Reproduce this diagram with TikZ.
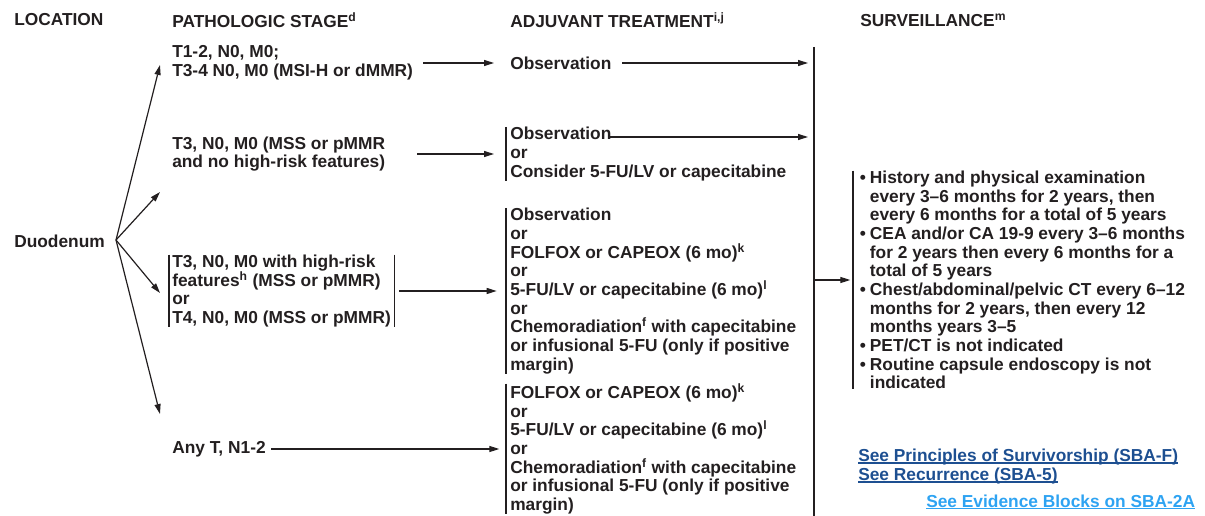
\documentclass[tikz,border=0pt]{standalone}
\usepackage{fontspec}
\setmainfont{Liberation Sans}
\usetikzlibrary{arrows.meta}
\definecolor{linkdark}{HTML}{1D4F91}
\definecolor{linklight}{HTML}{2EA3F2}
\definecolor{ink}{HTML}{231F20}
\newcommand{\bul}{\makebox[7.5pt][l]{\textbullet}}
\newcommand{\ind}{\hspace*{7.5pt}}
\newcommand{\ulink}[1]{\setbox0\hbox{#1}\rlap{\rule[-1.6pt]{\wd0}{0.9pt}}\box0}
\begin{document}
\begin{tikzpicture}[x=0.75pt,y=-0.75pt,
  txt/.style={font=\bfseries\fontsize{13pt}{14pt}\selectfont, text=ink, inner sep=0pt, align=left, anchor=west},
  blk/.style={txt, inner xsep=3pt, inner ysep=0pt},
  arr/.style={-{Triangle[length=7.5pt,width=4.5pt]}, line width=0.9pt, draw=ink},
  brk/.style={line width=0.9pt, draw=ink},
  lnk/.style={font=\bfseries\fontsize{13pt}{14pt}\selectfont, inner sep=0pt, anchor=west}]
\useasboundingbox (0,0) rectangle (1205,516);
% headers
\node[txt] (hloc) at (14,20) {LOCATION};
\node[txt] (hstage) at (172,20) {PATHOLOGIC STAGE\textsuperscript{d}};
\node[txt] (htreat) at (510,20) {ADJUVANT TREATMENT\textsuperscript{i,j}};
\node[txt] (hsurv) at (860,20) {SURVEILLANCE\textsuperscript{m}};
% location
\node[txt] (duo) at (14,241) {Duodenum};
\coordinate (fan) at (116,240);
\coordinate (f1) at (160,65);
\coordinate (f2) at (160,192);
\coordinate (f3) at (160,293);
\coordinate (f4) at (160,414);
\foreach \f in {f1,f2,f3,f4} \draw[arr] (fan) -- (\f);
% stages
\node[txt] (s1) at (172,63) {T1-2, N0, M0;\\T3-4 N0, M0 (MSI-H or dMMR)};
\node[txt] (s2) at (172,154) {T3, N0, M0 (MSS or pMMR\\and no high-risk features)};
\node[blk, inner xsep=2.25pt] (s3) at (169,291) {T3, N0, M0 with high-risk\\features\textsuperscript{h} (MSS or pMMR)\\or\\T4, N0, M0 (MSS or pMMR)};
\draw[brk] (s3.north west) -- (s3.south west);
\draw[brk] (s3.north east) -- (s3.south east);
\node[txt] (s4) at (172,449) {Any T, N1-2};
% treatments
\node[blk] (t1) at (506,63) {Observation};
\node[blk] (t2) at (506,154) {Observation\\or\\Consider 5-FU/LV or capecitabine};
\draw[brk] (t2.north west) -- (t2.south west);
\node[blk] (t3) at (506,291) {Observation\\or\\FOLFOX or CAPEOX (6 mo)\textsuperscript{k}\\or\\5-FU/LV or capecitabine (6 mo)\textsuperscript{l}\\or\\Chemoradiation\textsuperscript{f} with capecitabine\\or infusional 5-FU (only if positive\\margin)};
\draw[brk] (t3.north west) -- (t3.south west);
\node[blk] (t4) at (506,449) {FOLFOX or CAPEOX (6 mo)\textsuperscript{k}\\or\\5-FU/LV or capecitabine (6 mo)\textsuperscript{l}\\or\\Chemoradiation\textsuperscript{f} with capecitabine\\or infusional 5-FU (only if positive\\margin)};
\draw[brk] (t4.north west) -- (t4.south west);
% stage -> treatment arrows
\draw[arr, shorten <=7.5pt, shorten >=9pt] (s1.east) -- (t1.west);
\draw[arr, shorten <=24pt, shorten >=9pt] (s2.east) -- (t2.west);
\draw[arr, shorten <=4pt, shorten >=7pt] (s3.east) -- (t3.west);
\draw[arr, shorten <=4pt, shorten >=5pt] (s4.east) -- (t4.west);
% collector line
\coordinate (vtop) at (814,47);
\coordinate (vbot) at (814,516);
\draw[brk] (vtop) -- (vbot);
\draw[arr, shorten <=5pt, shorten >=4.5pt] (t1.east) -- (t1.east -| vtop);
\coordinate (o2) at (610,137);
\draw[arr, shorten >=4.5pt] (o2) -- (o2 -| vtop);
% surveillance
\node[blk, inner xsep=5pt] (surv) at (853,280) {\bul History and physical examination\\\ind every 3–6 months for 2 years, then\\\ind every 6 months for a total of 5 years\\\bul CEA and/or CA 19-9 every 3–6 months\\\ind for 2 years then every 6 months for a\\\ind total of 5 years\\\bul Chest/abdominal/pelvic CT every 6–12\\\ind months for 2 years, then every 12\\\ind months years 3–5\\\bul PET/CT is not indicated\\\bul Routine capsule endoscopy is not\\\ind indicated};
\draw[brk] (surv.north west) -- (surv.south west);
\draw[arr, shorten >=2pt] (surv.west -| vtop) -- (surv.west);
% links
\node[lnk, text=linkdark] (l1) at (858,457) {\ulink{See Principles of Survivorship (SBA-F)}};
\node[lnk, text=linkdark] (l2) at (858,476) {\ulink{See Recurrence (SBA-5)}};
\node[lnk, text=linklight] (l3) at (926,502) {\ulink{See Evidence Blocks on SBA-2A}};
\end{tikzpicture}
\end{document}
